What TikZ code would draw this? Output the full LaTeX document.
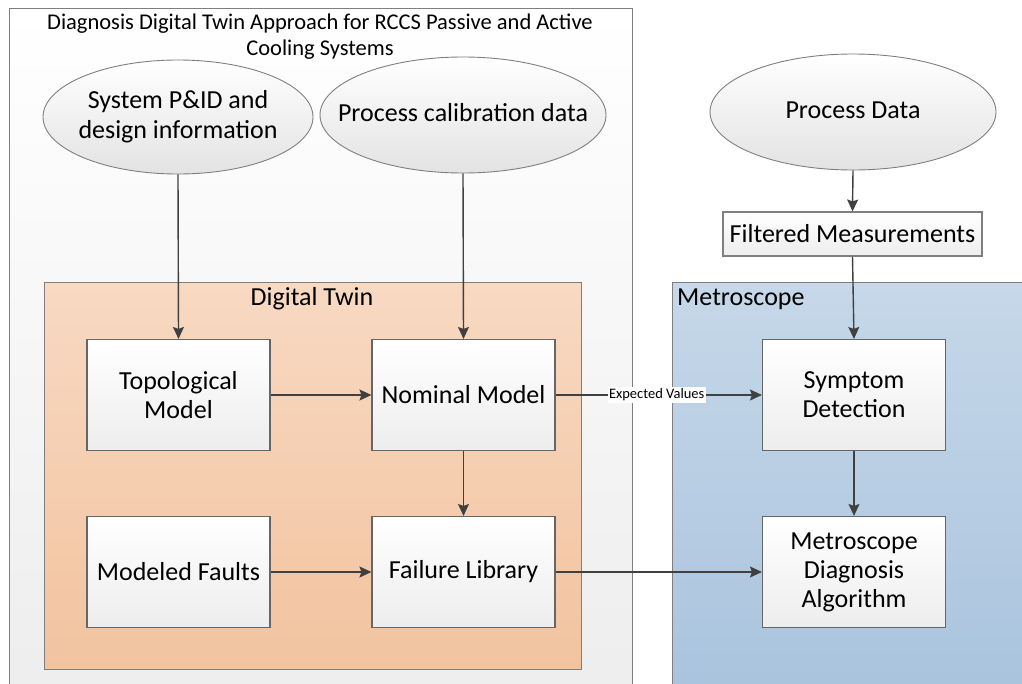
\documentclass[tikz,border=0pt]{standalone}
\usepackage{fontspec}
\setmainfont{Carlito}
\usetikzlibrary{shapes.geometric,arrows.meta}
\definecolor{linegray}{HTML}{404040}
\definecolor{boxborder}{HTML}{666666}
\definecolor{outerborder}{HTML}{7F7F7F}
\definecolor{dttop}{HTML}{F8D9C2}
\definecolor{dtbot}{HTML}{F2C39F}
\definecolor{mstop}{HTML}{C6D8E9}
\definecolor{msbot}{HTML}{A9C3DD}
\newcommand{\ctext}[1]{\makebox[0pt]{\begin{tabular}{@{}c@{}}#1\end{tabular}}}
\tikzset{
  container/.style={draw=outerborder, line width=1pt, inner sep=0pt},
  procbox/.style={draw=boxborder, line width=1.1pt, top color=white, bottom color=black!7,
    minimum width=183pt, minimum height=111pt, inner sep=0pt, align=center,
    font=\fontsize{26}{29}\selectfont},
  datasrc/.style={ellipse, draw=outerborder, line width=0.9pt, top color=white, bottom color=black!11,
    inner sep=0pt, font=\fontsize{26}{30}\selectfont},
  flow/.style={draw=linegray, line width=1.4pt, -{Stealth[length=12pt,width=11pt,inset=2pt]}}
}
\begin{document}
\begin{tikzpicture}[x=1pt,y=-1pt]
\useasboundingbox (0,0) rectangle (1022,683);
\clip (0,0) rectangle (1022,683);
% containers
\node[container, top color=white, bottom color=black!7, minimum width=623pt, minimum height=692pt] (outer) at (320.5,354) {};
\node[container, top color=dttop, bottom color=dtbot, minimum width=537pt, minimum height=387pt] (dt) at (312.5,475.5) {};
\node[container, top color=mstop, bottom color=msbot, minimum width=368pt, minimum height=418pt] (ms) at (856,491) {};
% container labels
\node[align=center, font=\fontsize{22.5}{26}\selectfont] (title) at (320,37) {Diagnosis Digital Twin Approach for RCCS Passive and Active\\Cooling Systems};
\node[font=\fontsize{26}{30}\selectfont] (dtlabel) at (312,299) {Digital Twin};
\node[anchor=west, inner sep=0pt, font=\fontsize{26}{30}\selectfont] (mslabel) at (677,299) {Metroscope};
% data sources
\node[datasrc, minimum width=270pt, minimum height=114pt] (pid) at (178,117) {\ctext{System P\&ID and\\design information}};
\node[datasrc, minimum width=286pt, minimum height=116pt] (calib) at (463,115) {\ctext{Process calibration data}};
\node[datasrc, minimum width=286pt, minimum height=116pt] (pdata) at (853,112) {\ctext{Process Data}};
% boxes
\node[procbox, draw=outerborder, minimum width=259pt, minimum height=44pt] (filt) at (852.5,234) {Filtered Measurements};
\node[procbox] (topo) at (178.5,395) {Topological\\Model};
\node[procbox] (nom) at (463.5,395) {Nominal Model};
\node[procbox] (faults) at (178.5,572) {Modeled Faults};
\node[procbox] (flib) at (463.5,572) {Failure Library};
\node[procbox] (sympt) at (854,395) {Symptom\\Detection};
\node[procbox] (diag) at (854,572) {Metroscope\\Diagnosis\\Algorithm};
% connectors
\draw[flow] (pid.south) -- (topo.north);
\draw[flow] (calib.south) -- (nom.north);
\draw[flow] (pdata.south) -- (filt.north);
\draw[flow] (filt.south) -- (sympt.north);
\draw[flow] (topo.east) -- (nom.west);
\draw[flow] (nom.east) -- node[pos=0.49, fill=white, inner sep=1.5pt, font=\fontsize{14.5}{16}\selectfont] (ev) {Expected Values} (sympt.west);
\draw[flow] (nom.south) -- (flib.north);
\draw[flow] (faults.east) -- (flib.west);
\draw[flow] (flib.east) -- (diag.west);
\draw[flow] (sympt.south) -- (diag.north);
\end{tikzpicture}
\end{document}
